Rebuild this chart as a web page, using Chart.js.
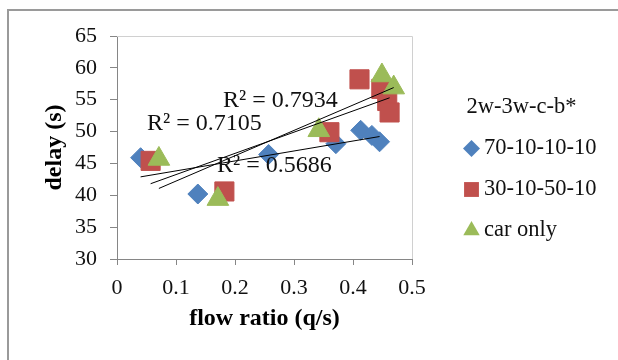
<!DOCTYPE html>
<html>
<head>
<meta charset="utf-8">
<script src="https://cdn.jsdelivr.net/npm/chart.js@4.4.1/dist/chart.umd.min.js"></script>
<style>
  html, body { margin: 0; padding: 0; background: #fff; overflow: hidden; }
  #wrap { position: relative; width: 618px; height: 360px; }
  #frame { position: absolute; left: 7px; top: 9px; width: 700px; height: 420px; border: 2px solid #9a9a9a; box-sizing: border-box; }
  canvas { position: absolute; left: 0; top: 0; }
</style>
</head>
<body>
<div id="wrap">
  <div id="frame"></div>
  <canvas id="chart" width="618" height="360"></canvas>
</div>
<script>
// series (flow ratio q/s -> delay s)
const seriesNames = ['70-10-10-10', '30-10-50-10', 'car only'];
const legendTitle = '2w-3w-c-b*';

const blueX = [0.040, 0.137, 0.257, 0.371, 0.413, 0.432, 0.445];
const blueY = [45.9, 40.2, 46.4, 48.1, 50.2, 49.4, 48.4];

const redX = [0.057, 0.182, 0.360, 0.411, 0.448, 0.458, 0.462];
const redY = [45.4, 40.6, 49.9, 58.2, 56.7, 54.8, 53.0];

const greenX = [0.071, 0.171, 0.342, 0.449, 0.469];
const greenY = [45.7, 39.4, 50.2, 58.8, 56.9];

// R² texts as printed on the chart
const r2Labels = ['R² = 0.5686', 'R² = 0.7105', 'R² = 0.7934'];

const xMin = 0, xMax = 0.5, xStep = 0.1;
const yMin = 30, yMax = 65, yStep = 5;

const FONT = 'Liberation Serif, Times New Roman, serif';
const colors = ['#4F81BD', '#C0504D', '#9BBB59'];
const styles = ['rectRot', 'rect', 'triangle'];

function toPoints(xs, ys) {
  return xs.map((x, i) => ({ x: x, y: ys[i] }));
}

// linear least squares, drawn from min x to max x like Excel's trendline
function trend(xs, ys) {
  const n = xs.length;
  const mx = xs.reduce((a, b) => a + b, 0) / n;
  const my = ys.reduce((a, b) => a + b, 0) / n;
  let sxy = 0, sxx = 0;
  for (let i = 0; i < n; i++) {
    sxy += (xs[i] - mx) * (ys[i] - my);
    sxx += (xs[i] - mx) * (xs[i] - mx);
  }
  const k = sxy / sxx;
  const b = my - k * mx;
  const x0 = Math.min(...xs), x1 = Math.max(...xs);
  return [{ x: x0, y: b + k * x0 }, { x: x1, y: b + k * x1 }];
}

const markerRadius = [10, 13.5, 12.5];

function markerSet(i, xs, ys) {
  return {
    label: seriesNames[i],
    data: toPoints(xs, ys),
    pointStyle: styles[i],
    pointRadius: markerRadius[i],
    pointHoverRadius: markerRadius[i],
    backgroundColor: colors[i],
    borderColor: colors[i],
    borderWidth: 1,
    order: 3 - i
  };
}

function trendSet(xs, ys) {
  return {
    type: 'line',
    label: 'trend',
    data: trend(xs, ys),
    borderColor: '#000',
    borderWidth: 1,
    pointRadius: 0,
    showLine: true,
    fill: false,
    order: 0
  };
}

// R² labels and the legend are drawn on the canvas
const annotations = {
  id: 'annotations',
  afterDraw(chart, args, opts) {
    const ctx = chart.ctx;
    ctx.save();

    // plot area frame (top and right edges are lighter)
    const a = chart.chartArea;
    ctx.strokeStyle = '#d0d0d0';
    ctx.lineWidth = 1;
    ctx.beginPath();
    ctx.moveTo(a.left, a.top + 0.5);
    ctx.lineTo(a.right + 0.5, a.top + 0.5);
    ctx.lineTo(a.right + 0.5, a.bottom);
    ctx.stroke();

    ctx.fillStyle = '#111';
    ctx.textBaseline = 'middle';
    ctx.textAlign = 'left';
    ctx.font = opts.r2Size + 'px ' + FONT;
    r2Labels.forEach((t, i) => {
      const p = opts.r2Pos[i];
      ctx.fillText(t, p.x, p.y);
    });

    // legend
    const L = opts.legend;
    ctx.font = L.size + 'px ' + FONT;
    ctx.fillText(legendTitle, L.x, L.titleY);
    seriesNames.forEach((name, i) => {
      const y = L.y + i * L.gap;
      ctx.fillStyle = colors[i];
      ctx.strokeStyle = colors[i];
      Chart.helpers.drawPoint(ctx, { pointStyle: styles[i], radius: L.radius[i], rotation: 0, borderWidth: 0 }, L.x + 5, y);
      ctx.fillStyle = '#111';
      ctx.fillText(name, L.x + 17.5, y);
    });
    ctx.restore();
  }
};

new Chart(document.getElementById('chart'), {
  type: 'scatter',
  data: {
    datasets: [
      markerSet(0, blueX, blueY),
      markerSet(1, redX, redY),
      markerSet(2, greenX, greenY),
      trendSet(blueX, blueY),
      trendSet(redX, redY),
      trendSet(greenX, greenY)
    ]
  },
  options: {
    responsive: false,
    animation: false,
    layout: { padding: { left: 0, top: 36, right: 206, bottom: 0 } },
    scales: {
      x: {
        type: 'linear',
        min: xMin, max: xMax,
        ticks: { stepSize: xStep, font: { family: FONT, size: 22 }, color: '#111', padding: 10 },
        grid: { drawOnChartArea: false, drawTicks: true, tickLength: 6, color: '#868686' },
        border: { color: '#868686', width: 1 },
        title: {
          display: true, text: 'flow ratio (q/s)', color: '#000',
          font: { family: FONT, size: 24, weight: 'bold' },
          padding: { top: 0, bottom: 27 }
        },
        afterFit: s => { s.height = 101; }
      },
      y: {
        type: 'linear',
        min: yMin, max: yMax,
        ticks: { stepSize: yStep, font: { family: FONT, size: 22 }, color: '#111', padding: 13 },
        grid: { drawOnChartArea: false, drawTicks: true, tickLength: 7, color: '#868686' },
        border: { color: '#868686', width: 1 },
        title: {
          display: true, text: 'delay (s)', color: '#000',
          font: { family: FONT, size: 24, weight: 'bold' },
          padding: { top: 40, bottom: 0 }
        },
        afterFit: s => { s.width = 117; }
      }
    },
    plugins: {
      legend: { display: false },
      tooltip: { enabled: false },
      annotations: {
        r2Size: 24,
        r2Pos: [{ x: 217, y: 166 }, { x: 147, y: 124 }, { x: 223, y: 101 }],
        legend: { x: 466.5, titleY: 107, y: 148.5, gap: 41, size: 22.5, radius: [8.5, 10.5, 9.5] }
      }
    }
  },
  plugins: [annotations]
});
</script>
</body>
</html>
